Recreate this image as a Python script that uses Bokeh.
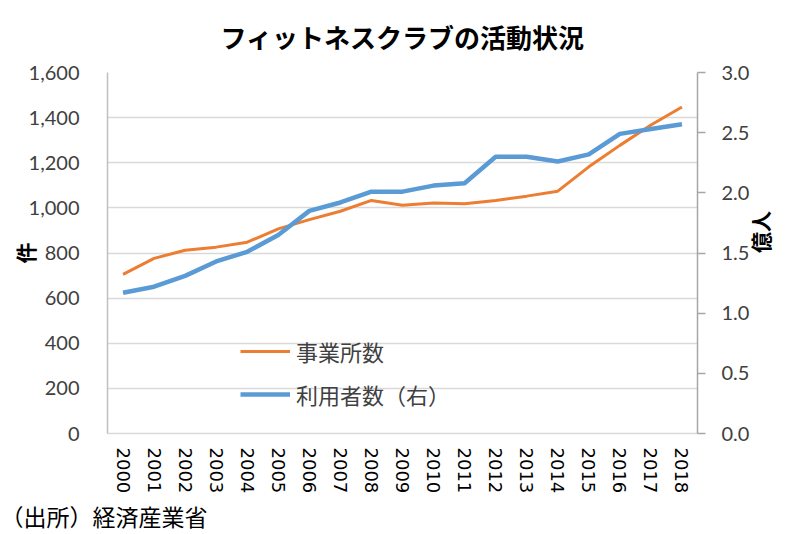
import math
from bokeh.plotting import figure
from bokeh.models import (LinearAxis, Range1d, FactorRange, Legend, LegendItem,
                          NumeralTickFormatter, FixedTicker, Title)
from bokeh.embed import file_html
from bokeh.resources import INLINE

years = ["2000", "2001", "2002", "2003", "2004", "2005", "2006", "2007", "2008", "2009",
         "2010", "2011", "2012", "2013", "2014", "2015", "2016", "2017", "2018"]
establishments = [705, 776, 812, 826, 848, 907, 948, 985, 1033, 1012,
                  1022, 1018, 1033, 1052, 1074, 1182, 1277, 1367, 1447]
users = [1.17, 1.22, 1.31, 1.43, 1.51, 1.65, 1.85, 1.92, 2.01, 2.01,
         2.06, 2.08, 2.30, 2.30, 2.26, 2.32, 2.49, 2.53, 2.57]
left_ticks = [0, 200, 400, 600, 800, 1000, 1200, 1400, 1600]
right_ticks = [0.0, 0.5, 1.0, 1.5, 2.0, 2.5, 3.0]

title_text = "フィットネスクラブの活動状況"
label_est = "事業所数"
label_users = "利用者数（右）"
left_title = "件"
right_title = "億人"
source_text = "（出所）経済産業省"

ORANGE = "#ED7D31"
BLUE = "#5B9BD5"
TICK_COLOR = "#404040"
JP = "Noto Sans CJK JP"
NUM = "Lato"

p = figure(width=793, height=532, x_range=FactorRange(*years),
           y_range=Range1d(0, 1600), output_backend="svg", toolbar_location=None,
           min_border_left=107, min_border_right=96, min_border_top=72, min_border_bottom=99)
p.extra_y_ranges = {"right": Range1d(0, 3.0)}

p.outline_line_color = None
p.xgrid.grid_line_color = None
p.ygrid.grid_line_color = "#d9d9d9"
p.ygrid.grid_line_width = 1.5

# title
p.title.text = title_text
p.title.align = "center"
p.title.vertical_align = "top"
p.title.text_font = JP
p.title.text_font_style = "bold"
p.title.text_font_size = "26px"
p.title.text_color = "#000000"
p.title.standoff = 31

# left axis
ya = p.yaxis[0]
ya.ticker = FixedTicker(ticks=left_ticks)
ya.formatter = NumeralTickFormatter(format="0,0")
ya.axis_line_color = "#bfbfbf"
ya.axis_line_width = 1.5
ya.major_tick_line_color = None
ya.minor_tick_line_color = None
ya.major_label_text_font = NUM
ya.major_label_text_font_size = "20px"
ya.major_label_text_color = TICK_COLOR
ya.major_label_standoff = 22
ya.axis_label = left_title
ya.axis_label_text_font = JP
ya.axis_label_text_font_style = "bold"
ya.axis_label_text_font_size = "21px"
ya.axis_label_text_color = "#000000"
ya.axis_label_standoff = -14

# bottom axis
xa = p.xaxis[0]
xa.axis_line_color = "#d9d9d9"
xa.axis_line_width = 1.5
xa.major_tick_line_color = None
xa.minor_tick_line_color = None
xa.major_label_orientation = "vertical"
xa.major_label_text_font = "DejaVu Sans"
xa.major_label_text_font_size = "18px"
xa.major_label_text_color = "#000000"
xa.major_label_standoff = 8

# right axis
ra = LinearAxis(y_range_name="right")
ra.ticker = FixedTicker(ticks=right_ticks)
ra.formatter = NumeralTickFormatter(format="0.0")
ra.axis_line_color = "#a6a6a6"
ra.axis_line_width = 1.5
ra.major_tick_line_color = "#a6a6a6"
ra.major_tick_line_width = 1.5
ra.major_tick_in = 0
ra.major_tick_out = 8
ra.minor_tick_line_color = None
ra.major_label_text_font = NUM
ra.major_label_text_font_size = "20px"
ra.major_label_text_color = TICK_COLOR
ra.major_label_standoff = 16
ra.axis_label = right_title
ra.axis_label_orientation = math.pi / 2
ra.axis_label_text_align = "center"
ra.axis_label_text_font = JP
ra.axis_label_text_font_style = "bold"
ra.axis_label_text_font_size = "21px"
ra.axis_label_text_color = "#000000"
ra.axis_label_standoff = 8
p.add_layout(ra, "right")

r_est = p.line(years, establishments, line_color=ORANGE, line_width=3)
r_users = p.line(years, users, line_color=BLUE, line_width=4.5, y_range_name="right")

legend = Legend(items=[LegendItem(label=label_est, renderers=[r_est]),
                       LegendItem(label=label_users, renderers=[r_users])],
                location=(133, 23), border_line_color=None, background_fill_alpha=0,
                glyph_width=50, glyph_height=20, label_height=20, label_standoff=6,
                spacing=11, padding=0, margin=0,
                label_text_font=JP, label_text_font_size="22px", label_text_color=TICK_COLOR)
p.add_layout(legend)

src = Title(text=source_text, align="left", text_font=JP, text_font_size="23px",
            text_font_style="normal", text_color="#000000", offset=-107, standoff=0)
p.add_layout(src, "below")

open("out.html", "w").write(file_html(p, INLINE))
